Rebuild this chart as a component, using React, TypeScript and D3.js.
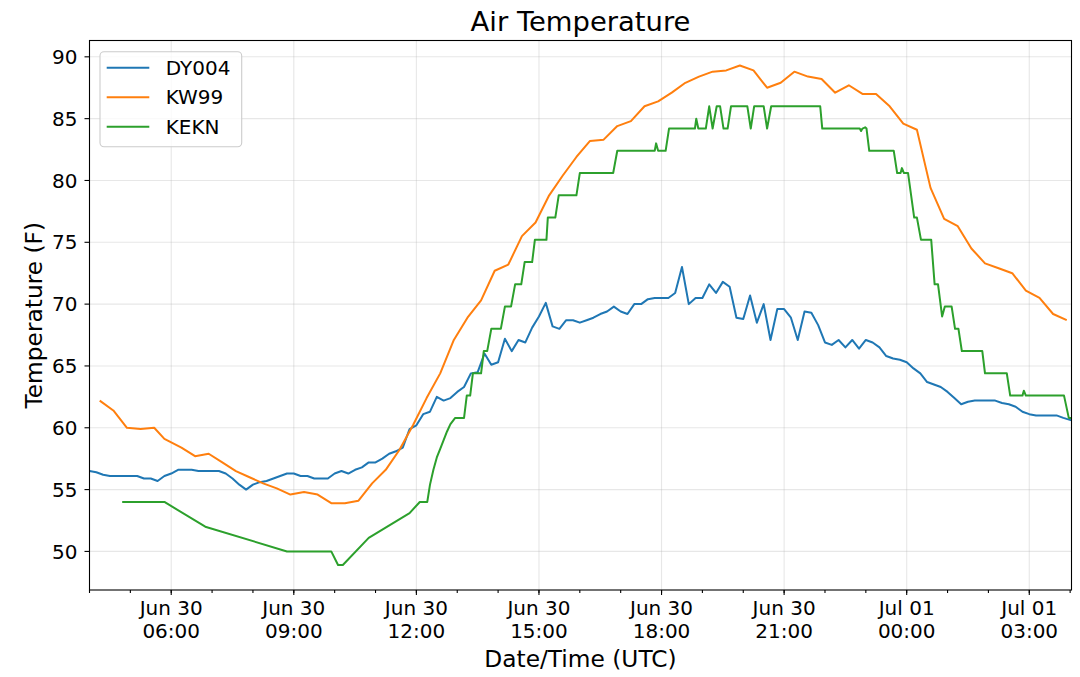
import * as d3 from "d3";

// time base: minutes after 2018-06-30 04:00 UTC
const start = Date.UTC(2018, 5, 30, 4, 0);

// [minutes after 04:00 UTC, temperature °F]
const dy004: [number, number][] = [
  [0, 56.5], [10, 56.4], [20, 56.2], [30, 56.1], [40, 56.1], [50, 56.1], [60, 56.1], [70, 56.1],
  [80, 55.9], [90, 55.9], [100, 55.7], [110, 56.1], [120, 56.3], [130, 56.6], [140, 56.6], [150, 56.6],
  [160, 56.5], [170, 56.5], [180, 56.5], [190, 56.5], [200, 56.3], [210, 55.9], [220, 55.4], [230, 55.0],
  [240, 55.4], [250, 55.6], [260, 55.7], [270, 55.9], [280, 56.1], [290, 56.3], [300, 56.3], [310, 56.1],
  [320, 56.1], [330, 55.9], [340, 55.9], [350, 55.9], [360, 56.3], [370, 56.5], [380, 56.3], [390, 56.6],
  [400, 56.8], [410, 57.2], [420, 57.2], [430, 57.5], [440, 57.9], [450, 58.1], [460, 58.4], [470, 59.9],
  [480, 60.2], [490, 61.1], [500, 61.3], [510, 62.5], [520, 62.2], [530, 62.4], [540, 62.9], [550, 63.3],
  [560, 64.4], [570, 64.5], [580, 66.0], [590, 65.1], [600, 65.3], [610, 67.2], [620, 66.2], [630, 67.1],
  [640, 66.9], [650, 68.1], [660, 69.0], [670, 70.1], [680, 68.2], [690, 68.0], [700, 68.7], [710, 68.7],
  [720, 68.5], [730, 68.7], [740, 68.9], [750, 69.2], [760, 69.4], [770, 69.8], [780, 69.4], [790, 69.2],
  [800, 70.0], [810, 70.0], [820, 70.4], [830, 70.5], [840, 70.5], [850, 70.5], [860, 70.9], [870, 73.0],
  [880, 70.0], [890, 70.5], [900, 70.5], [910, 71.6], [920, 70.9], [930, 71.8], [940, 71.4], [950, 68.9],
  [960, 68.8], [970, 70.7], [980, 68.5], [990, 70.0], [1000, 67.1], [1010, 69.6], [1020, 69.6], [1030, 68.9],
  [1040, 67.1], [1050, 69.4], [1060, 69.3], [1070, 68.3], [1080, 66.9], [1090, 66.7], [1100, 67.1], [1110, 66.5],
  [1120, 67.1], [1130, 66.4], [1140, 67.1], [1150, 66.9], [1160, 66.5], [1170, 65.8], [1180, 65.6], [1190, 65.5],
  [1200, 65.3], [1210, 64.8], [1220, 64.4], [1230, 63.7], [1240, 63.5], [1250, 63.3], [1260, 62.9], [1270, 62.4],
  [1280, 61.9], [1290, 62.1], [1300, 62.2], [1310, 62.2], [1320, 62.2], [1330, 62.2], [1340, 62.0], [1350, 61.9],
  [1360, 61.7], [1370, 61.3], [1380, 61.1], [1390, 61.0], [1400, 61.0], [1410, 61.0], [1420, 61.0], [1430, 60.8],
  [1442, 60.6],
];

const kw99: [number, number][] = [
  [15, 62.2], [35, 61.4], [55, 60.0], [75, 59.9], [95, 60.0], [110, 59.1], [135, 58.4], [155, 57.7],
  [175, 57.9], [195, 57.2], [215, 56.5], [235, 56.0], [255, 55.5], [275, 55.1], [295, 54.6], [315, 54.8],
  [335, 54.6], [355, 53.9], [375, 53.9], [395, 54.1], [415, 55.5], [435, 56.6], [455, 58.2], [475, 60.2],
  [495, 62.4], [515, 64.4], [535, 67.1], [555, 68.9], [575, 70.3], [595, 72.7], [615, 73.2], [635, 75.5],
  [655, 76.6], [675, 78.8], [695, 80.4], [715, 81.9], [735, 83.2], [755, 83.3], [775, 84.4], [795, 84.8],
  [815, 86.0], [835, 86.4], [855, 87.1], [875, 87.9], [895, 88.4], [915, 88.8], [935, 88.9], [955, 89.3],
  [975, 88.9], [995, 87.5], [1015, 87.9], [1035, 88.8], [1055, 88.4], [1075, 88.2], [1095, 87.1], [1115, 87.7],
  [1135, 87.0], [1155, 87.0], [1175, 86.0], [1195, 84.6], [1215, 84.1], [1235, 79.4], [1255, 76.9], [1275, 76.3],
  [1295, 74.5], [1315, 73.3], [1335, 72.9], [1355, 72.5], [1375, 71.1], [1395, 70.5], [1415, 69.2], [1435, 68.7],
];

const kekn: [number, number][] = [
  [48, 54.0], [110, 54.0], [170, 52.0], [290, 50.0], [355, 50.0], [365, 48.9], [372, 48.9], [410, 51.1],
  [470, 53.1], [485, 54.0], [496, 54.0], [500, 55.4], [505, 56.6], [510, 57.6], [515, 58.3], [520, 59.0],
  [525, 59.7], [530, 60.3], [537, 60.8], [550, 60.8], [554, 62.6], [559, 62.6], [563, 64.4], [575, 64.4],
  [579, 66.2], [584, 66.2], [590, 68.0], [604, 68.0], [610, 69.8], [619, 69.8], [625, 71.6], [634, 71.6],
  [639, 73.4], [650, 73.4], [654, 75.2], [671, 75.2], [673, 77.0], [684, 77.0], [689, 78.8], [715, 78.8],
  [720, 80.6], [769, 80.6], [775, 82.4], [830, 82.4], [832, 83.0], [835, 82.4], [846, 82.4], [851, 84.2],
  [889, 84.2], [891, 85.0], [894, 84.2], [905, 84.2], [910, 86.0], [915, 84.2], [921, 86.0], [926, 86.0],
  [931, 84.2], [937, 84.2], [942, 86.0], [966, 86.0], [971, 84.2], [976, 86.0], [990, 86.0], [995, 84.2],
  [1001, 86.0], [1073, 86.0], [1076, 84.2], [1131, 84.2], [1133, 84.0], [1135, 84.2], [1139, 84.3], [1141, 84.2],
  [1145, 82.4], [1181, 82.4], [1186, 80.6], [1191, 80.6], [1193, 81.0], [1196, 80.6], [1202, 80.6], [1211, 77.0],
  [1215, 77.0], [1221, 75.2], [1236, 75.2], [1241, 71.6], [1246, 71.6], [1252, 69.0], [1256, 69.8], [1266, 69.8],
  [1271, 68.0], [1276, 68.0], [1281, 66.2], [1311, 66.2], [1315, 64.4], [1347, 64.4], [1352, 62.6], [1370, 62.6],
  [1372, 63.0], [1375, 62.6], [1431, 62.6], [1438, 60.8], [1442, 60.8],
];

const seriesNames = ["DY004", "KW99", "KEKN"];
const seriesData = [dy004, kw99, kekn];
const seriesColors = ["#1f77b4", "#ff7f0e", "#2ca02c"];
const yTicks = [50, 55, 60, 65, 70, 75, 80, 85, 90];

const W = 1080;
const H = 677;
const left = 89.5;
const right = 1071.5;
const top = 40.5;
const bottom = 590;
const font = "DejaVu Sans";

const toDate = (m: number) => new Date(start + m * 60000);

export default function App() {
  const all = seriesData.flat();
  const [t0, t1] = d3.extent(all, (d) => d[0]) as [number, number];
  const [v0, v1] = d3.extent(all, (d) => d[1]) as [number, number];
  const pad = (v1 - v0) * 0.05;

  const x = d3.scaleUtc().domain([toDate(t0), toDate(t1)]).range([left, right]);
  const y = d3.scaleLinear().domain([v0 - pad, v1 + pad]).range([bottom, top]);

  const line = d3
    .line<[number, number]>()
    .x((d) => x(toDate(d[0])))
    .y((d) => y(d[1]));

  const major = x.ticks(d3.utcHour.every(3)!);
  const minor = x.ticks(d3.utcHour.every(1)!);
  const fmtDay = d3.utcFormat("%b %d");
  const fmtTime = d3.utcFormat("%H:%M");

  return (
    <svg
      width={W}
      height={H}
      style={{ position: "fixed", left: 0, top: 0, background: "#fff" }}
      fontFamily={font}
    >
      <defs>
        <clipPath id="plot">
          <rect x={left} y={top} width={right - left} height={bottom - top} />
        </clipPath>
      </defs>

      {/* grid */}
      <g stroke="#b0b0b0" strokeOpacity={0.3} strokeWidth={1.1}>
        {major.map((t) => (
          <line key={+t} x1={x(t)} x2={x(t)} y1={top} y2={bottom} />
        ))}
        {yTicks.map((v) => (
          <line key={v} x1={left} x2={right} y1={y(v)} y2={y(v)} />
        ))}
      </g>

      {/* series */}
      <g clipPath="url(#plot)" fill="none" strokeWidth={2} strokeLinejoin="round">
        {seriesData.map((d, i) => (
          <path key={seriesNames[i]} d={line(d) ?? ""} stroke={seriesColors[i]} />
        ))}
      </g>

      {/* frame */}
      <rect
        x={left}
        y={top}
        width={right - left}
        height={bottom - top}
        fill="none"
        stroke="#000"
        strokeWidth={1.1}
      />

      {/* ticks */}
      <g stroke="#000" strokeWidth={1.1}>
        {minor.map((t) => (
          <line key={+t} x1={x(t)} x2={x(t)} y1={bottom} y2={bottom + 3} />
        ))}
        {major.map((t) => (
          <line key={+t} x1={x(t)} x2={x(t)} y1={bottom} y2={bottom + 5} />
        ))}
        {yTicks.map((v) => (
          <line key={v} x1={left - 5} x2={left} y1={y(v)} y2={y(v)} />
        ))}
      </g>
      <g fontSize={20} fill="#000" textAnchor="middle">
        {major.map((t) => (
          <text key={+t} x={x(t)} y={bottom + 25}>
            <tspan x={x(t)}>{fmtDay(t)}</tspan>
            <tspan x={x(t)} dy={22.7}>
              {fmtTime(t)}
            </tspan>
          </text>
        ))}
      </g>
      <g fontSize={20} fill="#000" textAnchor="end">
        {yTicks.map((v) => (
          <text key={v} x={left - 12} y={y(v)} dy="0.36em">
            {v}
          </text>
        ))}
      </g>

      {/* labels */}
      <text x={(left + right) / 2} y={31} fontSize={27.4} textAnchor="middle">
        Air Temperature
      </text>
      <text x={(left + right) / 2} y={667} fontSize={23.3} textAnchor="middle">
        Date/Time (UTC)
      </text>
      <text
        transform={`translate(41.7,${(top + bottom) / 2}) rotate(-90)`}
        fontSize={23.3}
        textAnchor="middle"
      >
        Temperature (F)
      </text>

      {/* legend */}
      <g>
        <rect
          x={100}
          y={51.7}
          width={141.7}
          height={95}
          rx={4}
          fill="#fff"
          fillOpacity={0.8}
          stroke="#cccccc"
          strokeWidth={1.1}
        />
        {seriesNames.map((name, i) => {
          const ly = 67.7 + i * 29.5;
          return (
            <g key={name}>
              <line x1={106.7} x2={149.3} y1={ly} y2={ly} stroke={seriesColors[i]} strokeWidth={2} />
              <text x={165.7} y={ly} dy="0.36em" fontSize={20}>
                {name}
              </text>
            </g>
          );
        })}
      </g>
    </svg>
  );
}
